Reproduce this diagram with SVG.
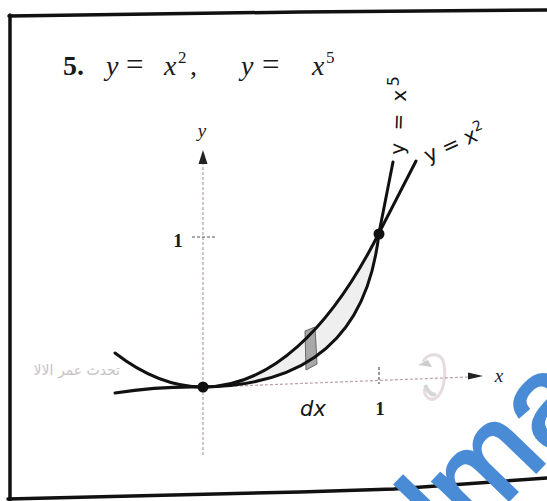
<svg xmlns="http://www.w3.org/2000/svg" width="547" height="501" viewBox="0 0 547 501">
<defs>
<style>
.frame{fill:none;stroke:#111;stroke-width:3.5;stroke-linecap:round;stroke-linejoin:round}
.curve{fill:none;stroke:#111;stroke-width:3;stroke-linecap:round;stroke-linejoin:round}
.axis{fill:none;stroke:#b8a0a8;stroke-width:1.2;stroke-dasharray:3 2}
.tick{fill:none;stroke:#555;stroke-width:1.2;stroke-dasharray:3 2}
.print{font-family:"Liberation Serif","Times New Roman",serif;fill:#1a1a1a}
.hand{font-family:"DejaVu Sans","Liberation Sans",sans-serif;fill:#151515}
.wm{font-family:"Liberation Sans",Arial,sans-serif;font-size:128px;fill:#4a8bd6;stroke:#4a8bd6;stroke-width:3}
</style>
</defs>
<rect x="0" y="0" width="547" height="501" fill="#ffffff"/>

<g id="frame">
<polyline class="frame" points="9,16 300,12 547,10"/>
<line class="frame" x1="10" y1="15" x2="10" y2="501"/>
<polyline class="frame" points="8,499 300,492 394,489 547,478"/>
</g>

<g id="title" class="print">
<text x="63" y="75" font-size="28" font-weight="bold">5.</text>
<text y="75" font-size="28" font-style="italic"><tspan x="106">y</tspan><tspan x="126" font-style="normal" font-size="31">=</tspan><tspan x="164">x</tspan><tspan x="178" dy="-12" font-size="17" font-style="normal">2</tspan><tspan x="190" dy="12" font-style="normal">,</tspan><tspan x="241">y</tspan><tspan x="262" font-style="normal" font-size="31">=</tspan><tspan x="312">x</tspan><tspan x="326" dy="-12" font-size="17" font-style="normal">5</tspan></text>
</g>

<g id="bleed" opacity="0.55">
<text x="120" y="375" font-family="DejaVu Sans,sans-serif" font-size="14" fill="#9a8f92" text-anchor="end">تحدث عمر الالا</text>
<path d="M423,362 C428,352 442,352 444,364 C446,376 444,392 436,398 C430,402 423,396 425,388" fill="none" stroke="#d2bec5" stroke-width="3"/>
<path d="M418,365 L432,367 L428,360 Z" fill="#a5a5a5"/>
<path d="M425,385 C428,392 432,396 436,394" fill="none" stroke="#b5b5b5" stroke-width="4"/>
</g>

<g id="axes">
<line class="axis" x1="203" y1="162" x2="203" y2="455"/>
<path d="M203,150 L198.5,164 L207.5,164 Z" fill="#222"/>
<line class="axis" x1="210" y1="387" x2="468" y2="377"/>
<path d="M483,376 L468,372.5 L468,379.5 Z" fill="#222"/>
<line class="tick" x1="192" y1="237" x2="217" y2="237"/>
<line class="tick" x1="379" y1="367" x2="379" y2="384"/>
</g>

<g id="region">
<path d="M203,387 C270,387 330,330 379,233 C365,360 280,386 203,387 Z" fill="#efefef"/>
<path d="M305,331 L315,327 L317,364 L306,370 Z" fill="#a8a8a8" stroke="#666" stroke-width="1"/>
</g>

<g id="curves">
<path id="parabola" class="curve" d="M115,353 Q159,387 203,387 C270,387 330,330 379,233 L416,161"/>
<path id="quintic" class="curve" d="M115,393 Q160,386 203,387 C280,386 365,360 379,233 L393,162"/>
<circle cx="203" cy="387" r="5.5" fill="#111"/>
<circle cx="379" cy="234" r="5.5" fill="#111"/>
</g>

<g id="labels" class="print">
<text x="202" y="137" font-size="19" font-style="italic" text-anchor="middle">y</text>
<text x="178" y="247" font-size="19" font-weight="bold" text-anchor="middle">1</text>
<text x="499" y="382" font-size="19" font-style="italic" text-anchor="middle">x</text>
<text x="380" y="415" font-size="19" font-weight="bold" text-anchor="middle">1</text>
</g>

<g id="handwriting" class="hand">
<text x="313" y="416" font-size="21" text-anchor="middle" font-style="italic">dx</text>
<text transform="translate(404,155) rotate(-88)" font-size="20" letter-spacing="3">y = x<tspan dy="-8" font-size="16">5</tspan></text>
<text transform="translate(428,163) rotate(-24)" font-size="21">y = x<tspan dy="-9" font-size="14">2</tspan></text>
</g>

<g id="watermark">
<text class="wm" transform="translate(456,555) rotate(-46)">lman</text>
</g>
</svg>
